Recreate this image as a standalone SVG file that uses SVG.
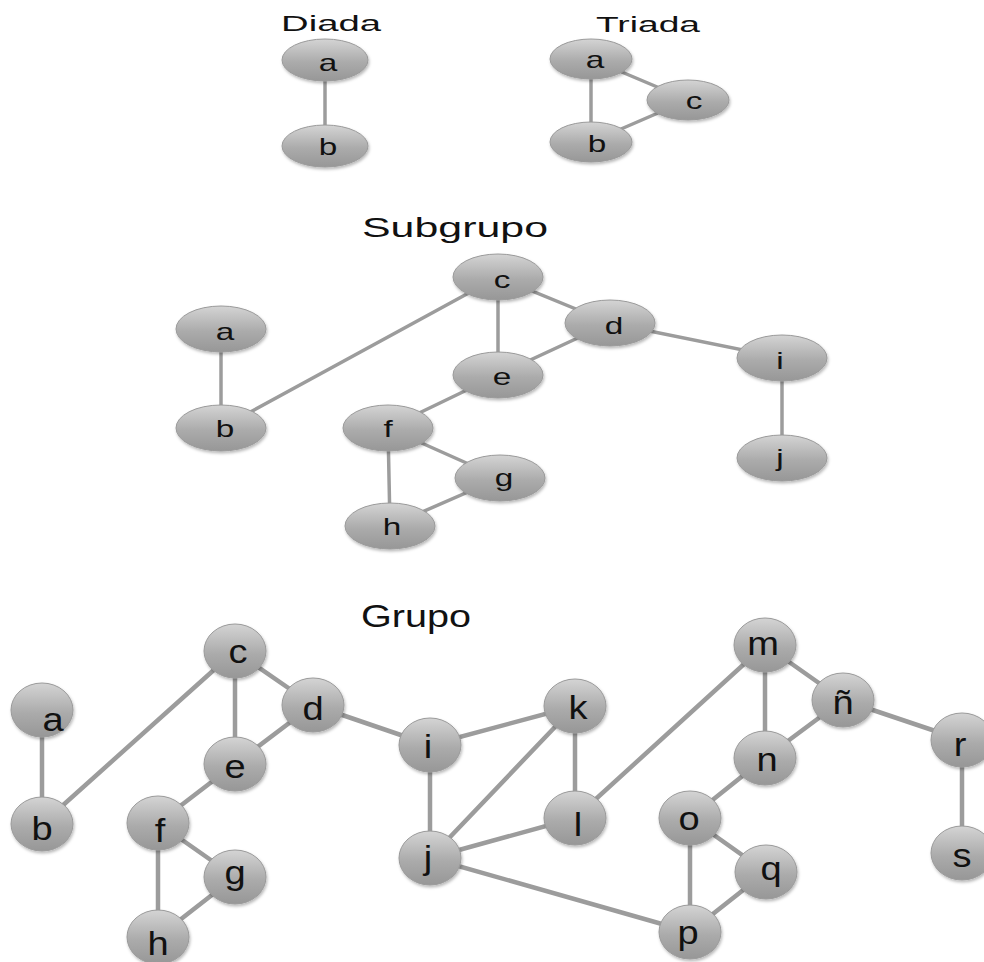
<svg xmlns="http://www.w3.org/2000/svg" width="984" height="962" viewBox="0 0 984 962">
<defs>
<linearGradient id="ng" x1="0" y1="0" x2="0" y2="1">
<stop offset="0" stop-color="#d4d4d4"/>
<stop offset="0.55" stop-color="#ababab"/>
<stop offset="1" stop-color="#979797"/>
</linearGradient>
<filter id="sh" x="-20%" y="-20%" width="140%" height="150%">
<feDropShadow dx="1" dy="2" stdDeviation="1.5" flood-color="#000" flood-opacity="0.28"/>
</filter>
</defs>
<style>
.n ellipse{fill:url(#ng);stroke:#9a9a9a;stroke-width:1;filter:url(#sh)}
text{font-family:"Liberation Sans",Arial,sans-serif;fill:#111;text-anchor:middle}
.ttl{font-size:22px}
.big{font-size:31px}
.ls{font-size:23px}
.lg{font-size:34px}
.e line{stroke:#9c9c9c;stroke-linecap:round}
.e1 line{stroke-width:3.5}
.e2 line{stroke-width:4.5}
</style>
<rect width="984" height="962" fill="#fff"/>

<!-- titles -->
<text class="ttl" x="331" y="31" textLength="100" lengthAdjust="spacingAndGlyphs">Diada</text>
<text class="ttl" x="648" y="32" textLength="104" lengthAdjust="spacingAndGlyphs">Triada</text>
<text class="ttl" x="455" y="237" textLength="186" lengthAdjust="spacingAndGlyphs" style="font-size:27px">Subgrupo</text>
<text class="big" x="416" y="627" textLength="110" lengthAdjust="spacingAndGlyphs">Grupo</text>

<!-- connectors -->
<g id="connectors" class="e">
<g class="e1">
<line x1="325" y1="60" x2="325" y2="146"/>
<line x1="591" y1="59" x2="591" y2="142"/>
<line x1="591" y1="59" x2="688" y2="100"/>
<line x1="591" y1="142" x2="688" y2="100"/>
<line x1="221" y1="329" x2="221" y2="428"/>
<line x1="221" y1="428" x2="498" y2="277"/>
<line x1="498" y1="277" x2="498" y2="375"/>
<line x1="498" y1="277" x2="610" y2="323"/>
<line x1="610" y1="323" x2="498" y2="375"/>
<line x1="610" y1="323" x2="782" y2="358"/>
<line x1="782" y1="358" x2="782" y2="458"/>
<line x1="498" y1="375" x2="388" y2="428"/>
<line x1="388" y1="428" x2="500" y2="478"/>
<line x1="388" y1="428" x2="390" y2="526"/>
<line x1="500" y1="478" x2="390" y2="526"/>
</g>
<g class="e2">
<line x1="42" y1="710" x2="42" y2="824"/>
<line x1="42" y1="824" x2="235" y2="651"/>
<line x1="235" y1="651" x2="235" y2="764"/>
<line x1="235" y1="651" x2="313" y2="705"/>
<line x1="313" y1="705" x2="235" y2="764"/>
<line x1="235" y1="764" x2="158" y2="823"/>
<line x1="158" y1="823" x2="235" y2="877"/>
<line x1="158" y1="823" x2="158" y2="937"/>
<line x1="235" y1="877" x2="158" y2="937"/>
<line x1="313" y1="705" x2="430" y2="745"/>
<line x1="430" y1="745" x2="430" y2="858"/>
<line x1="430" y1="745" x2="575" y2="706"/>
<line x1="430" y1="858" x2="575" y2="706"/>
<line x1="430" y1="858" x2="575" y2="818"/>
<line x1="575" y1="706" x2="575" y2="818"/>
<line x1="430" y1="858" x2="690" y2="932"/>
<line x1="575" y1="818" x2="765" y2="645"/>
<line x1="765" y1="645" x2="765" y2="758"/>
<line x1="765" y1="645" x2="843" y2="700"/>
<line x1="843" y1="700" x2="765" y2="758"/>
<line x1="843" y1="700" x2="962" y2="740"/>
<line x1="962" y1="740" x2="962" y2="853"/>
<line x1="765" y1="758" x2="690" y2="818"/>
<line x1="690" y1="818" x2="766" y2="872"/>
<line x1="690" y1="818" x2="690" y2="932"/>
<line x1="690" y1="932" x2="766" y2="872"/>
</g>
</g>

<!-- Diada -->
<g id="diada-a" class="n"><ellipse cx="325" cy="60" rx="43" ry="21"/><text class="ls" transform="translate(328,71) scale(1.45,1)">a</text></g>
<g id="diada-b" class="n"><ellipse cx="325" cy="146" rx="43" ry="21"/><text class="ls" transform="translate(328,155) scale(1.45,1)">b</text></g>

<!-- Triada -->
<g id="triada-a" class="n"><ellipse cx="591" cy="59" rx="41" ry="20"/><text class="ls" transform="translate(595,68) scale(1.45,1)">a</text></g>
<g id="triada-c" class="n"><ellipse cx="688" cy="100" rx="41" ry="20"/><text class="ls" transform="translate(694,109) scale(1.45,1)">c</text></g>
<g id="triada-b" class="n"><ellipse cx="591" cy="142" rx="41" ry="20"/><text class="ls" transform="translate(597,152) scale(1.45,1)">b</text></g>

<!-- Subgrupo -->
<g id="sub-a" class="n"><ellipse cx="221" cy="329" rx="45" ry="23"/><text class="ls" transform="translate(225,340) scale(1.45,1)">a</text></g>
<g id="sub-b" class="n"><ellipse cx="221" cy="428" rx="45" ry="23"/><text class="ls" transform="translate(225,437) scale(1.45,1)">b</text></g>
<g id="sub-c" class="n"><ellipse cx="498" cy="277" rx="45" ry="23"/><text class="ls" transform="translate(502,288) scale(1.45,1)">c</text></g>
<g id="sub-d" class="n"><ellipse cx="610" cy="323" rx="45" ry="23"/><text class="ls" transform="translate(614,334) scale(1.45,1)">d</text></g>
<g id="sub-e" class="n"><ellipse cx="498" cy="375" rx="45" ry="23"/><text class="ls" transform="translate(502,385) scale(1.45,1)">e</text></g>
<g id="sub-i" class="n"><ellipse cx="782" cy="358" rx="45" ry="23"/><text class="ls" transform="translate(780,369) scale(1.45,1)">i</text></g>
<g id="sub-j" class="n"><ellipse cx="782" cy="458" rx="45" ry="23"/><text class="ls" transform="translate(780,466) scale(1.45,1)">j</text></g>
<g id="sub-f" class="n"><ellipse cx="388" cy="428" rx="45" ry="23"/><text class="ls" transform="translate(388,437) scale(1.45,1)">f</text></g>
<g id="sub-g" class="n"><ellipse cx="500" cy="478" rx="45" ry="23"/><text class="ls" transform="translate(504,486) scale(1.45,1)">g</text></g>
<g id="sub-h" class="n"><ellipse cx="390" cy="526" rx="45" ry="23"/><text class="ls" transform="translate(392,535) scale(1.45,1)">h</text></g>

<!-- Grupo -->
<g id="grupo-a" class="n"><ellipse cx="42" cy="710" rx="31" ry="27"/><text class="lg" transform="translate(53,731) scale(1.12,1)">a</text></g>
<g id="grupo-b" class="n"><ellipse cx="42" cy="824" rx="31" ry="27"/><text class="lg" transform="translate(42,840) scale(1.12,1)">b</text></g>
<g id="grupo-c" class="n"><ellipse cx="235" cy="651" rx="31" ry="27"/><text class="lg" transform="translate(238,663) scale(1.12,1)">c</text></g>
<g id="grupo-d" class="n"><ellipse cx="313" cy="705" rx="31" ry="27"/><text class="lg" transform="translate(313,720) scale(1.12,1)">d</text></g>
<g id="grupo-e" class="n"><ellipse cx="235" cy="764" rx="31" ry="27"/><text class="lg" transform="translate(235,778) scale(1.12,1)">e</text></g>
<g id="grupo-f" class="n"><ellipse cx="158" cy="823" rx="31" ry="27"/><text class="lg" transform="translate(160,842) scale(1.12,1)">f</text></g>
<g id="grupo-g" class="n"><ellipse cx="235" cy="877" rx="31" ry="27"/><text class="lg" transform="translate(235,884) scale(1.12,1)">g</text></g>
<g id="grupo-h" class="n"><ellipse cx="158" cy="937" rx="31" ry="27"/><text class="lg" transform="translate(158,955) scale(1.12,1)">h</text></g>
<g id="grupo-i" class="n"><ellipse cx="430" cy="745" rx="31" ry="27"/><text class="lg" transform="translate(428,758) scale(1.12,1)">i</text></g>
<g id="grupo-j" class="n"><ellipse cx="430" cy="858" rx="31" ry="27"/><text class="lg" transform="translate(428,869) scale(1.12,1)">j</text></g>
<g id="grupo-k" class="n"><ellipse cx="575" cy="706" rx="31" ry="27"/><text class="lg" transform="translate(578,719) scale(1.12,1)">k</text></g>
<g id="grupo-l" class="n"><ellipse cx="575" cy="818" rx="31" ry="27"/><text class="lg" transform="translate(578,836) scale(1.12,1)">l</text></g>
<g id="grupo-m" class="n"><ellipse cx="765" cy="645" rx="31" ry="27"/><text class="lg" transform="translate(763,655) scale(1.12,1)">m</text></g>
<g id="grupo-enye" class="n"><ellipse cx="843" cy="700" rx="31" ry="27"/><text class="lg" transform="translate(843,714) scale(1.12,1)">ñ</text></g>
<g id="grupo-n" class="n"><ellipse cx="765" cy="758" rx="31" ry="27"/><text class="lg" transform="translate(767,771) scale(1.12,1)">n</text></g>
<g id="grupo-r" class="n"><ellipse cx="962" cy="740" rx="31" ry="27"/><text class="lg" transform="translate(960,756) scale(1.12,1)">r</text></g>
<g id="grupo-s" class="n"><ellipse cx="962" cy="853" rx="31" ry="27"/><text class="lg" transform="translate(962,867) scale(1.12,1)">s</text></g>
<g id="grupo-o" class="n"><ellipse cx="690" cy="818" rx="31" ry="27"/><text class="lg" transform="translate(689,830) scale(1.12,1)">o</text></g>
<g id="grupo-q" class="n"><ellipse cx="766" cy="872" rx="31" ry="27"/><text class="lg" transform="translate(771,880) scale(1.12,1)">q</text></g>
<g id="grupo-p" class="n"><ellipse cx="690" cy="932" rx="31" ry="27"/><text class="lg" transform="translate(688,944) scale(1.12,1)">p</text></g>
</svg>
